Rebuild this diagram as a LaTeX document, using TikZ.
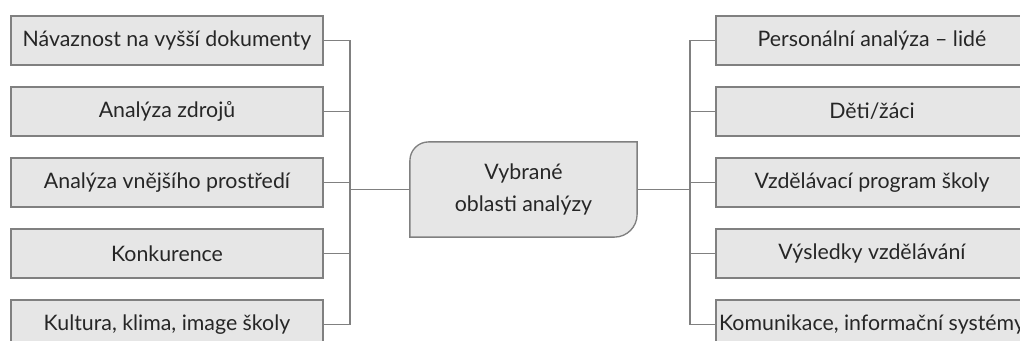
\documentclass[tikz,border=0pt]{standalone}
\usepackage{fontspec}
\setmainfont{Lato}
\usetikzlibrary{backgrounds}
\definecolor{boxfill}{HTML}{E6E6E6}
\definecolor{boxline}{HTML}{808080}
\definecolor{textcol}{HTML}{262626}

\begin{document}
\begin{tikzpicture}[x=0.75pt, y=-0.75pt, font=\fontsize{16}{19}\selectfont,
  item/.style={draw=boxline, fill=boxfill, line width=1pt, minimum width=234pt,
               minimum height=36.75pt, inner sep=0pt, text=textcol},
  link/.style={draw=boxline, line width=0.8pt}]
  \useasboundingbox (0,0) rectangle (1020,340);
  \clip (0,0) rectangle (1020,340);
  % Centre
  \node[text=textcol, align=center, minimum width=170pt, minimum height=71pt,
        inner sep=0pt, font=\fontsize{16}{24}\selectfont] (centre) at (523.5,189.5)
        {Vybrané\\oblasti analýzy};
  \begin{scope}[on background layer]
    \draw[draw=boxline, fill=boxfill, line width=1pt]
      ([xshift=14pt]centre.north west) -- (centre.north east)
      -- ([yshift=17pt]centre.south east) arc[start angle=0, end angle=-90, radius=17pt]
      -- (centre.south west) -- ([yshift=-14pt]centre.north west)
      arc[start angle=180, end angle=90, radius=14pt] -- cycle;
  \end{scope}
  % Left side
  \node[item] (l1) at (167,40.5) {Návaznost na vyšší dokumenty};
  \node[item] (l2) at (167,111.5) {Analýza zdrojů};
  \node[item] (l3) at (167,182.5) {Analýza vnějšího prostředí};
  \node[item] (l4) at (167,253.5) {Konkurence};
  \node[item] (l5) at (167,324.5) {Kultura, klima, image školy};
  \coordinate (ltrunk) at (350,189.5);
  \draw[link] (l1.east) -| (ltrunk) -- (centre.west);
  \draw[link] (l5.east) -| (ltrunk);
  \draw[link] (l2.east) -- (l2.east -| ltrunk);
  \draw[link] (l3.east) -- (l3.east -| ltrunk);
  \draw[link] (l4.east) -- (l4.east -| ltrunk);
  % Right side
  \node[item] (r1) at (872,40.5) {Personální analýza – lidé};
  \node[item] (r2) at (872,111.5) {Děti/žáci};
  \node[item] (r3) at (872,182.5) {Vzdělávací program školy};
  \node[item] (r4) at (872,253.5) {Výsledky vzdělávání};
  \node[item] (r5) at (872,324.5) {Komunikace, informační systémy};
  \coordinate (rtrunk) at (690,189.5);
  \draw[link] (r1.west) -| (rtrunk) -- (centre.east);
  \draw[link] (r5.west) -| (rtrunk);
  \draw[link] (r2.west) -- (r2.west -| rtrunk);
  \draw[link] (r3.west) -- (r3.west -| rtrunk);
  \draw[link] (r4.west) -- (r4.west -| rtrunk);
\end{tikzpicture}
\end{document}
